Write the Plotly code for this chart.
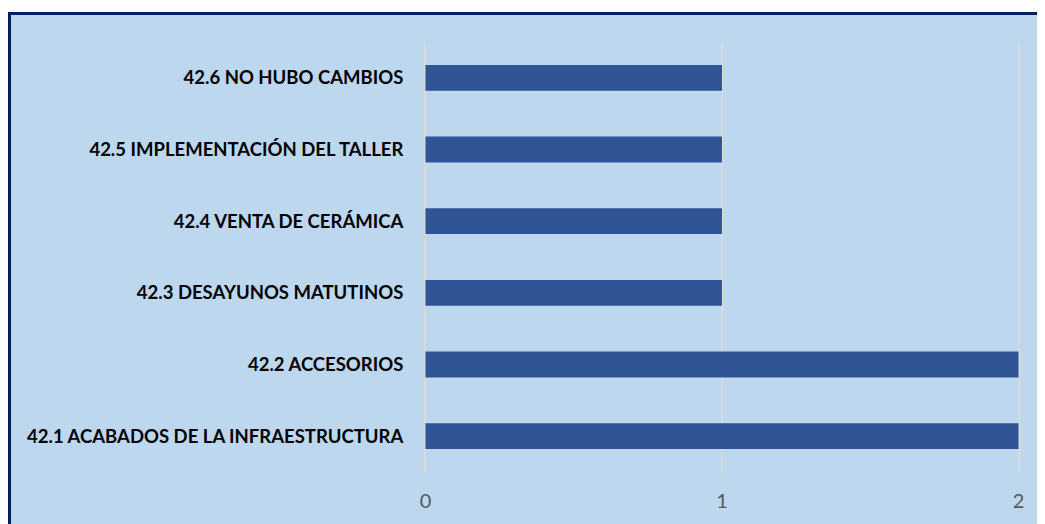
import plotly.graph_objects as go

categories = [
    "42.1 ACABADOS DE LA INFRAESTRUCTURA",
    "42.2 ACCESORIOS",
    "42.3 DESAYUNOS MATUTINOS",
    "42.4 VENTA DE CERÁMICA",
    "42.5 IMPLEMENTACIÓN DEL TALLER",
    "42.6 NO HUBO CAMBIOS",
]
values = [2, 2, 1, 1, 1, 1]
x_ticks = [0, 1, 2]

# page body has an 8px margin, so the figure is offset by (8, 8)
OFF = 8
W, H = 1045 - OFF, 524 - OFF
L, R, T, B = 424 - OFF, 25, 42 - OFF, 52
pw, ph = W - L - R, H - T - B

def px_to_paper_x(p):
    return (p - OFF - L) / pw

def px_to_paper_y(p):
    return (H - B - (p - OFF)) / ph

fig = go.Figure(go.Bar(
    x=values, y=categories, orientation="h",
    marker=dict(color="#2F5597", line=dict(width=0)),
    width=0.36,
))

fig.add_shape(
    type="rect", xref="paper", yref="paper", layer="below",
    x0=px_to_paper_x(9.5), x1=px_to_paper_x(1070),
    y0=px_to_paper_y(560), y1=px_to_paper_y(13.5),
    fillcolor="#BDD7EE", line=dict(color="#002060", width=3),
)

fig.update_layout(
    width=W, height=H,
    margin=dict(l=L, r=R, t=T, b=B, autoexpand=False),
    paper_bgcolor="white",
    plot_bgcolor="rgba(0,0,0,0)",
    showlegend=False,
    font=dict(family="Lato", color="#000000"),
)
fig.update_xaxes(
    automargin=False,
    range=[-0.005, 2.005], tickvals=x_ticks, ticktext=[str(v) for v in x_ticks],
    showgrid=True, gridcolor="#D9D9D9", gridwidth=1.5,
    zeroline=False, showline=False,
    tickfont=dict(family="Lato", size=20, color="#595959"),
    ticks="outside", ticklen=11, tickcolor="rgba(0,0,0,0)",
)
fig.update_yaxes(
    automargin=False,
    showgrid=False, zeroline=False, showline=False,
    tickfont=dict(family="Lato", size=18.5, color="#000000", weight="bold"),
    ticks="outside", ticklen=16, tickcolor="rgba(0,0,0,0)",
)

fig.write_html("out.html")
